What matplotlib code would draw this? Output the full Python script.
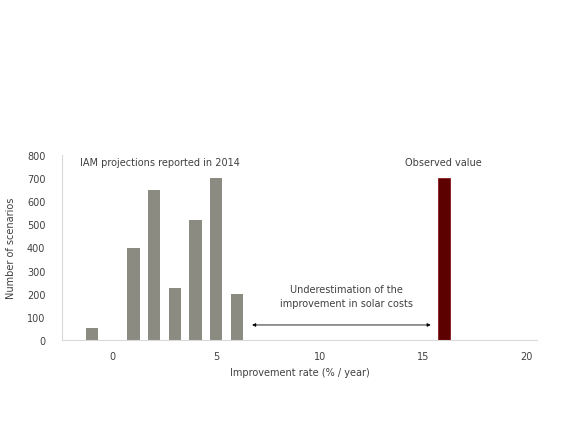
import matplotlib
matplotlib.use('agg')
import matplotlib.pyplot as plt

# IAM projections (scenario counts per improvement rate)
rates = [-1, 1, 2, 3, 4, 5, 6]
counts = [50, 400, 650, 225, 520, 700, 200]
obs_rate = [16]
obs_count = [700]

fig = plt.figure(figsize=(5.8, 4.35), dpi=100)
ax = fig.add_axes([62/580, 1-341/435, (537-62)/580, (341-156)/435])
ax.bar(rates, counts, width=0.6, color='#8b8b82')
ax.bar(obs_rate, obs_count, width=0.6, color='#5c0000', edgecolor='#8b1a1a', linewidth=0.6)

ax.set_xlim(-2.45, 20.5)
ax.set_ylim(0, 800)
ax.set_xticks([0, 5, 10, 15, 20])
ax.set_yticks(range(0, 801, 100))
for s in ['top', 'right']:
    ax.spines[s].set_visible(False)
for s in ['left', 'bottom']:
    ax.spines[s].set_color('#d9d9d9')
ax.tick_params(length=0, labelsize=7, colors='#404040', pad=8)
ax.tick_params(axis='y', pad=12)
ax.set_xlabel('Improvement rate (% / year)', fontsize=7, color='#404040', labelpad=4)
ax.set_ylabel('Number of scenarios', fontsize=7, color='#404040', labelpad=8)

ax.text(-1.6, 770, 'IAM projections reported in 2014', fontsize=7, color='#404040', va='center')
ax.text(16.0, 770, 'Observed value', fontsize=7, color='#404040', va='center', ha='center')
ax.text(11.3, 190, 'Underestimation of the\nimprovement in solar costs', fontsize=7,
        color='#404040', ha='center', va='center', linespacing=1.4)
ax.annotate('', xy=(6.6, 65), xytext=(15.5, 65),
            arrowprops=dict(arrowstyle='<|-|>', color='black', lw=0.6, mutation_scale=5))

fig.savefig('out.png', dpi=100)
